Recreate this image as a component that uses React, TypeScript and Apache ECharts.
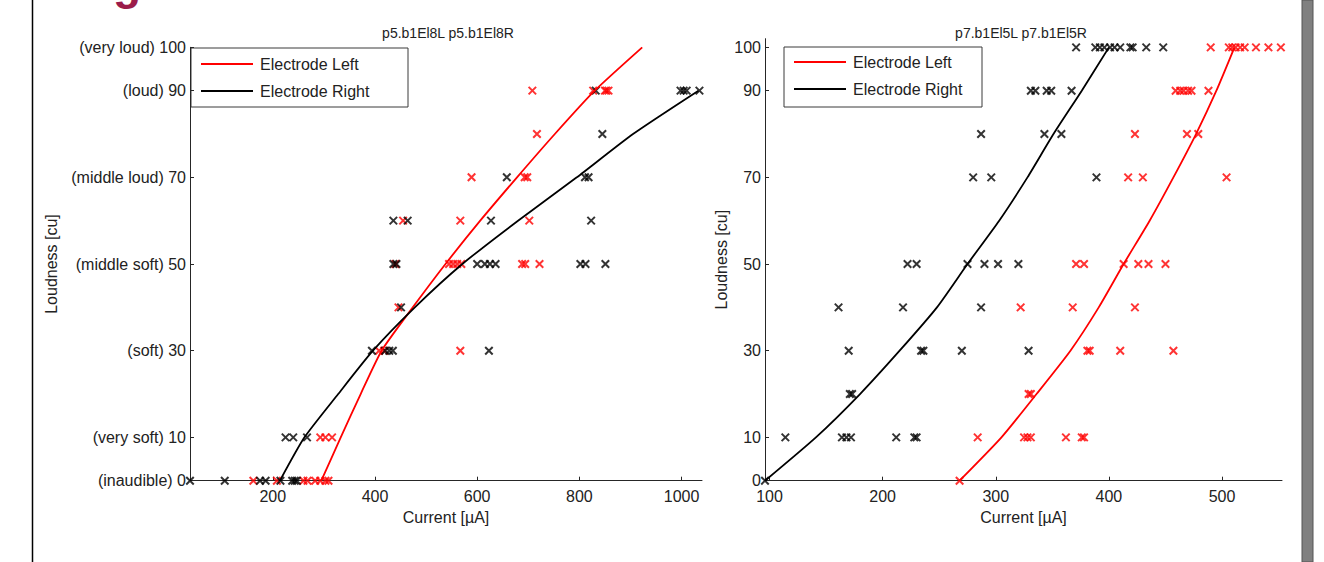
import { useEffect, useRef } from "react";
import * as echarts from "echarts";

// ---------- data ----------
const loudnessTicks = [0, 10, 30, 50, 70, 90, 100];
const loudnessTickNames = [
  "(inaudible) 0",
  "(very soft) 10",
  "(soft) 30",
  "(middle soft) 50",
  "(middle loud) 70",
  "(loud) 90",
  "(very loud) 100",
];
const p5CurrentTicks = [200, 400, 600, 800, 1000];
const p7CurrentTicks = [100, 200, 300, 400, 500];

const p5Title = "p5.b1El8L p5.b1El8R";
const p7Title = "p7.b1El5L p7.b1El5R";
const legendNames = ["Electrode Left", "Electrode Right"];

// p5 measurements [current µA, loudness cu]
const p5LeftPoints = [
  [162, 0], [208, 0], [260, 0], [268, 0], [283, 0], [293, 0], [303, 0], [309, 0],
  [293, 10], [303, 10], [316, 10],
  [408, 30], [418, 30], [567, 30],
  [446, 40],
  [440, 50], [545, 50], [553, 50], [561, 50], [569, 50], [688, 50], [694, 50], [722, 50],
  [455, 60], [567, 60], [702, 60],
  [589, 70], [693, 70], [698, 70],
  [717, 80],
  [708, 90], [827, 90], [850, 90], [853, 90], [857, 90],
];
const p5RightPoints = [
  [38, 0], [106, 0], [175, 0], [186, 0], [215, 0], [238, 0], [243, 0], [247, 0],
  [225, 10], [240, 10], [267, 10],
  [394, 30], [420, 30], [428, 30], [435, 30], [623, 30],
  [451, 40],
  [436, 50], [442, 50], [600, 50], [615, 50], [625, 50], [636, 50], [802, 50], [812, 50], [851, 50],
  [436, 60], [464, 60], [627, 60], [823, 60],
  [658, 70], [811, 70], [818, 70],
  [845, 80],
  [832, 90], [998, 90], [1004, 90], [1010, 90], [1035, 90],
];
// p5 fitted curves
const p5LeftFitLoudness = [0, 10, 20, 30, 40, 50, 60, 70, 80, 90, 100];
const p5LeftFitCurrent = [295, 333, 372, 413, 474, 538, 606, 678, 752, 830, 923];
const p5RightFitLoudness = [0, 10, 20, 30, 40, 50, 60, 70, 80, 90];
const p5RightFitCurrent = [214, 262, 328, 396, 478, 571, 680, 795, 905, 1033];

// p7 measurements
const p7LeftPoints = [
  [268, 0],
  [284, 10], [325, 10], [328, 10], [331, 10], [362, 10], [376, 10], [378, 10],
  [329, 20], [331, 20],
  [381, 30], [383, 30], [410, 30], [457, 30],
  [322, 40], [368, 40], [423, 40],
  [371, 50], [378, 50], [413, 50], [426, 50], [435, 50], [450, 50],
  [417, 70], [430, 70], [504, 70],
  [423, 80], [469, 80], [479, 80],
  [459, 90], [463, 90], [466, 90], [470, 90], [473, 90], [488, 90],
  [490, 100], [506, 100], [509, 100], [512, 100], [516, 100], [520, 100], [530, 100], [541, 100], [552, 100],
];
const p7RightPoints = [
  [96, 0],
  [114, 10], [164, 10], [168, 10], [172, 10], [212, 10], [228, 10], [230, 10],
  [171, 20], [173, 20],
  [170, 30], [234, 30], [236, 30], [270, 30], [329, 30],
  [161, 40], [218, 40], [287, 40],
  [222, 50], [230, 50], [275, 50], [290, 50], [302, 50], [320, 50],
  [280, 70], [296, 70], [389, 70],
  [287, 80], [343, 80], [358, 80],
  [331, 90], [335, 90], [345, 90], [349, 90], [367, 90],
  [371, 100], [388, 100], [392, 100], [396, 100], [401, 100], [405, 100], [410, 100], [419, 100], [421, 100], [433, 100], [448, 100],
];
const p7FitLoudness = [0, 10, 20, 30, 40, 50, 60, 70, 80, 90, 100];
const p7LeftFitCurrent = [268, 305, 336, 366, 391, 413, 436, 457, 477, 495, 511];
const p7RightFitCurrent = [96, 141, 180, 215, 248, 275, 303, 328, 351, 376, 400];

// ---------- styling ----------
const FONT = "'Liberation Sans', Arial, Helvetica, sans-serif";
const TXT = "#222222";
const AX = "#262626";
const RED = "#ff0000";
const BLK = "#000000";
const XMARK = "path://M0,0L10,10M10,0L0,10";

const zip = (xs: number[], ys: number[]) => xs.map((x, i) => [x, ys[i]]);

function scatter(data: number[][], color: string, idx: number) {
  return {
    type: "scatter",
    xAxisIndex: idx,
    yAxisIndex: idx,
    data,
    symbol: XMARK,
    symbolSize: 7.5,
    itemStyle: { color: "transparent", borderColor: color, borderWidth: 2 },
    silent: true,
    z: 2,
  };
}
function fit(data: number[][], color: string, idx: number) {
  return {
    type: "line",
    xAxisIndex: idx,
    yAxisIndex: idx,
    data,
    smooth: 0.2,
    showSymbol: false,
    lineStyle: { color, width: 1.8 },
    silent: true,
    z: 3,
  };
}

function xAxis(idx: number, min: number, max: number, ticks: number[]) {
  return {
    type: "value",
    gridIndex: idx,
    min,
    max,
    name: "Current [µA]",
    nameLocation: "middle",
    nameGap: 23,
    nameTextStyle: { fontFamily: FONT, fontSize: 16, color: TXT },
    axisLine: { onZero: false, lineStyle: { color: AX, width: 1 } },
    axisTick: { inside: true, length: 4, customValues: ticks, lineStyle: { color: AX } },
    axisLabel: {
      customValues: ticks,
      fontFamily: FONT,
      fontSize: 16,
      color: TXT,
      margin: 8,
      formatter: (v: number) => String(v),
    },
    splitLine: { show: false },
  };
}
function yAxis(idx: number, max: number, nameGap: number, named: boolean) {
  return {
    type: "value",
    gridIndex: idx,
    min: 0,
    max,
    name: "Loudness [cu]",
    nameLocation: "middle",
    nameGap,
    nameTextStyle: { fontFamily: FONT, fontSize: 16, color: TXT },
    axisLine: { onZero: false, lineStyle: { color: AX, width: 1 } },
    axisTick: { inside: true, length: 4, customValues: loudnessTicks, lineStyle: { color: AX } },
    axisLabel: {
      customValues: loudnessTicks,
      fontFamily: FONT,
      fontSize: 16,
      color: TXT,
      margin: 4,
      formatter: (v: number) => (named ? loudnessTickNames[loudnessTicks.indexOf(v)] : String(v)),
    },
    splitLine: { show: false },
  };
}

function legend(x: number, y: number, w: number, h: number, l1: number, l2: number) {
  const lx = x + 10;
  const tx = x + 69;
  return {
    type: "group",
    z: 100,
    children: [
      { type: "rect", shape: { x, y, width: w, height: h }, style: { fill: "#ffffff", stroke: "#3a3a3a", lineWidth: 1 } },
      { type: "line", shape: { x1: lx, y1: l1, x2: lx + 52, y2: l1 }, style: { stroke: RED, lineWidth: 2 } },
      { type: "line", shape: { x1: lx, y1: l2, x2: lx + 52, y2: l2 }, style: { stroke: BLK, lineWidth: 2 } },
      { type: "text", x: tx, y: l1, style: { text: legendNames[0], fontFamily: FONT, fontSize: 16, fill: TXT, verticalAlign: "middle" } },
      { type: "text", x: tx, y: l2, style: { text: legendNames[1], fontFamily: FONT, fontSize: 16, fill: TXT, verticalAlign: "middle" } },
    ],
  };
}

export default function App() {
  const ref = useRef<HTMLDivElement>(null);
  useEffect(() => {
    if (!ref.current) return;
    const chart = echarts.init(ref.current, undefined, { renderer: "svg" });
    chart.setOption({
      animation: false,
      backgroundColor: "#ffffff",
      title: [
        { text: p5Title, left: 443, top: 21, textAlign: "center", textStyle: { fontFamily: FONT, fontSize: 14, fontWeight: "normal", color: TXT } },
        { text: p7Title, left: 1016, top: 21, textAlign: "center", textStyle: { fontFamily: FONT, fontSize: 14, fontWeight: "normal", color: TXT } },
      ],
      grid: [
        { left: 190, top: 47.3, width: 512, height: 433.4 },
        { left: 765, top: 38.7, width: 517, height: 442 },
      ],
      xAxis: [xAxis(0, 38, 1040, p5CurrentTicks), xAxis(1, 96, 553, p7CurrentTicks)],
      yAxis: [yAxis(0, 100, 131, true), yAxis(1, 102, 36, false)],
      series: [
        scatter(p5LeftPoints, RED, 0),
        scatter(p5RightPoints, BLK, 0),
        fit(zip(p5LeftFitCurrent, p5LeftFitLoudness), RED, 0),
        fit(zip(p5RightFitCurrent, p5RightFitLoudness), BLK, 0),
        scatter(p7LeftPoints, RED, 1),
        scatter(p7RightPoints, BLK, 1),
        fit(zip(p7LeftFitCurrent, p7FitLoudness), RED, 1),
        fit(zip(p7RightFitCurrent, p7FitLoudness), BLK, 1),
      ],
      graphic: [
        { type: "line", shape: { x1: 32.5, y1: 0, x2: 32.5, y2: 562 }, style: { stroke: "#000000", lineWidth: 1.5 } },
        { type: "rect", shape: { x: 1302, y: 0, width: 11, height: 562 }, style: { fill: "#808080", stroke: "#555555", lineWidth: 1 } },
        { type: "text", x: 113, y: 6, style: { text: "g", fontFamily: FONT, fontSize: 46, fontWeight: "bold", fill: "#9b1c4a", verticalAlign: "bottom" } },
        legend(191, 48, 217, 59, 64, 91),
        legend(784, 47, 198, 60, 62, 89),
      ],
    });
    return () => chart.dispose();
  }, []);
  return <div ref={ref} style={{ position: "fixed", left: 0, top: 0, width: 1324, height: 562 }} />;
}
